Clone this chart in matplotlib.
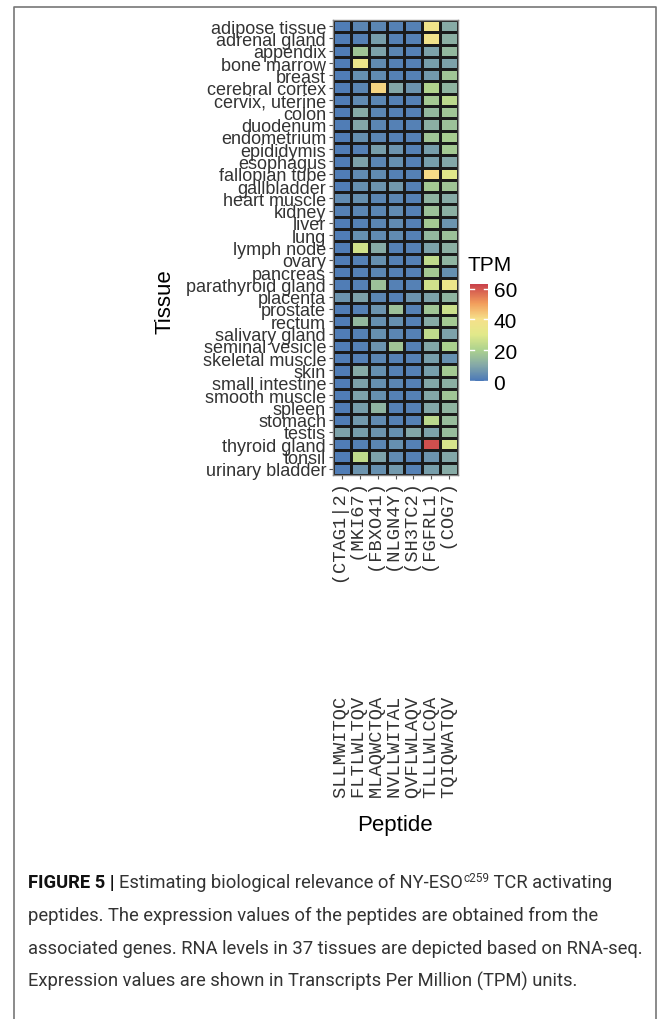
import numpy as np
import matplotlib.pyplot as plt
from matplotlib.colors import LinearSegmentedColormap, Normalize
import matplotlib.cm as cm

tissues = ['adipose tissue', 'adrenal gland', 'appendix', 'bone marrow', 'breast',
           'cerebral cortex', 'cervix, uterine', 'colon', 'duodenum', 'endometrium',
           'epididymis', 'esophagus', 'fallopian tube', 'gallbladder', 'heart muscle',
           'kidney', 'liver', 'lung', 'lymph node', 'ovary', 'pancreas',
           'parathyroid gland', 'placenta', 'prostate', 'rectum', 'salivary gland',
           'seminal vesicle', 'skeletal muscle', 'skin', 'small intestine',
           'smooth muscle', 'spleen', 'stomach', 'testis', 'thyroid gland', 'tonsil',
           'urinary bladder']

peptides = ['SLLMWITQC', 'FLTLWLTQV', 'MLAQWCTQA', 'NVLLWITAL', 'QVFLWLAQV',
            'TLLLWLCQA', 'TQIQWATQV']
genes = ['CTAG1|2', 'MKI67', 'FBXO41', 'NLGN4Y', 'SH3TC2', 'FGFRL1', 'COG7']

# TPM per tissue, one list per peptide
ctag1_2 = [1, 1, 1, 1, 1, 1, 1, 1, 1, 1, 1, 1, 1, 1, 4, 2, 1, 1, 1, 1, 1, 1, 6,
           1, 1, 1, 1, 1, 1, 1, 1, 1, 1, 9, 1, 1, 1]
mki67 = [3, 2, 17, 35, 5, 3, 4, 11, 10, 5, 2, 9, 4, 5, 5, 3, 2, 5, 27, 2, 2, 2, 9,
         2, 14, 2, 2, 2, 11, 9, 9, 8, 7, 8, 2, 24, 6]
fbxo41 = [3, 8, 9, 4, 4, 42, 3, 3, 3, 3, 8, 3, 4, 6, 3, 3, 3, 4, 11, 5, 3, 16, 3,
          6, 5, 5, 6, 3, 5, 5, 5, 13, 4, 6, 3, 9, 5]
nlgn4y = [2, 2, 3, 2, 2, 10, 2, 2, 2, 2, 6, 5, 2, 7, 3, 4, 4, 4, 2, 2, 2, 2, 2,
          16, 5, 3, 17, 2, 2, 3, 2, 2, 2, 5, 5, 4, 7]
sh3tc2 = [2, 2, 2, 2, 2, 6, 2, 2, 2, 2, 2, 2, 2, 2, 2, 2, 2, 2, 2, 2, 2, 2, 6,
          2, 2, 2, 2, 2, 2, 2, 2, 2, 2, 10, 2, 2, 2]
fgfrl1 = [37, 38, 9, 8, 7, 21, 18, 14, 12, 17, 8, 8, 41, 18, 13, 16, 18, 14, 9,
          24, 18, 27, 9, 17, 11, 24, 10, 8, 8, 10, 10, 10, 23, 9, 61, 6, 8]
cog7 = [11, 12, 14, 9, 17, 13, 23, 17, 16, 19, 18, 10, 30, 17, 11, 12, 6, 16, 12,
        13, 5, 35, 13, 26, 18, 9, 20, 5, 18, 12, 17, 13, 15, 15, 28, 10, 11]

tpm = np.array([ctag1_2, mki67, fbxo41, nlgn4y, sh3tc2, fgfrl1, cog7]).T

xlabels = [p + ('(' + g + ')').rjust(19) for p, g in zip(peptides, genes)]

cmap = LinearSegmentedColormap.from_list('tpm', [
    (0.0, '#4a78b8'), (0.16, '#84a8a8'), (0.32, '#acd28e'), (0.48, '#e2e98a'),
    (0.64, '#f6e08a'), (0.80, '#f29e5c'), (1.0, '#c9404b')])
norm = Normalize(vmin=0, vmax=63)

fig = plt.figure(figsize=(6.69, 10.2), dpi=100)
W, H = 669, 1020

ax = fig.add_axes([333 / W, 1 - 476 / H, 125 / W, 455 / H])
ax.pcolormesh(np.arange(8), np.arange(38), tpm, cmap=cmap, norm=norm,
              edgecolors='#1a1a1a', linewidth=0.8)
ax.set_xlim(0, 7)
ax.set_ylim(37, 0)
ax.set_yticks(np.arange(37) + 0.5)
ax.set_yticklabels(tissues, fontsize=13, color='#333333', family='Liberation Sans')
ax.set_xticks(np.arange(7) + 0.5)
ax.set_xticklabels(xlabels, rotation=90, fontsize=13.5, color='#333333',
                   family='Liberation Mono', va='top', ha='center')
ax.tick_params(length=3, width=0.8, color='#555555', pad=2)
for s in ax.spines.values():
    s.set_color('#888888')
    s.set_linewidth(1)

fig.text(165 / W, 1 - 302 / H, 'Tissue', rotation=90, ha='center', va='center',
         fontsize=16, family='Liberation Sans')
fig.text(395 / W, 1 - 826 / H, 'Peptide', ha='center', va='center',
         fontsize=16, family='Liberation Sans')

# colour legend
cax = fig.add_axes([470 / W, 1 - 382 / H, 18 / W, 97 / H])
cb = fig.colorbar(cm.ScalarMappable(norm=norm, cmap=cmap), cax=cax,
                  ticks=[0, 20, 40, 60])
cb.outline.set_visible(False)
cax.tick_params(length=0, labelsize=15, pad=4)
for lab in cax.get_yticklabels():
    lab.set_family('Liberation Sans')
for v in [0, 20, 40, 60]:
    cax.plot([0, 0.2], [v, v], color='white', lw=1, transform=cax.get_yaxis_transform())
    cax.plot([0.8, 1], [v, v], color='white', lw=1, transform=cax.get_yaxis_transform())
fig.text(468 / W, 1 - 266 / H, 'TPM', ha='left', va='center', fontsize=15,
         family='Liberation Sans')

# frame around the figure panel
fig.add_artist(plt.Line2D([14 / W, 14 / W, 656 / W, 656 / W],
                          [0, 1 - 8 / H, 1 - 8 / H, 0],
                          transform=fig.transFigure, color='#777777', lw=1.2))

# caption
renderer = fig.canvas.get_renderer()


def chain(x, y, parts):
    for txt, kw in parts:
        t = fig.text(x, y, txt, fontsize=kw.get('size', 13.2), family='Roboto',
                     weight=kw.get('weight', 'normal'), color=kw.get('color', '#333333'),
                     va='baseline', ha='left')
        if 'dy' in kw:
            t.set_position((x, y + kw['dy']))
        bb = t.get_window_extent(renderer)
        x += bb.width / fig.bbox.width


cx = 28 / W
chain(cx, 1 - 888 / H, [('FIGURE 5 | ', dict(weight='bold', color='#111111')),
                        ('Estimating biological relevance of NY-ESO', {}),
                        ('c259', dict(size=8.5, dy=6 / H)),
                        (' TCR activating', {})])
chain(cx, 1 - 921 / H, [('peptides. The expression values of the peptides are obtained from the', {})])
chain(cx, 1 - 954 / H, [('associated genes. RNA levels in 37 tissues are depicted based on RNA-seq.', {})])
chain(cx, 1 - 987 / H, [('Expression values are shown in Transcripts Per Million (TPM) units.', {})])

fig.savefig('out.png', dpi=100)
